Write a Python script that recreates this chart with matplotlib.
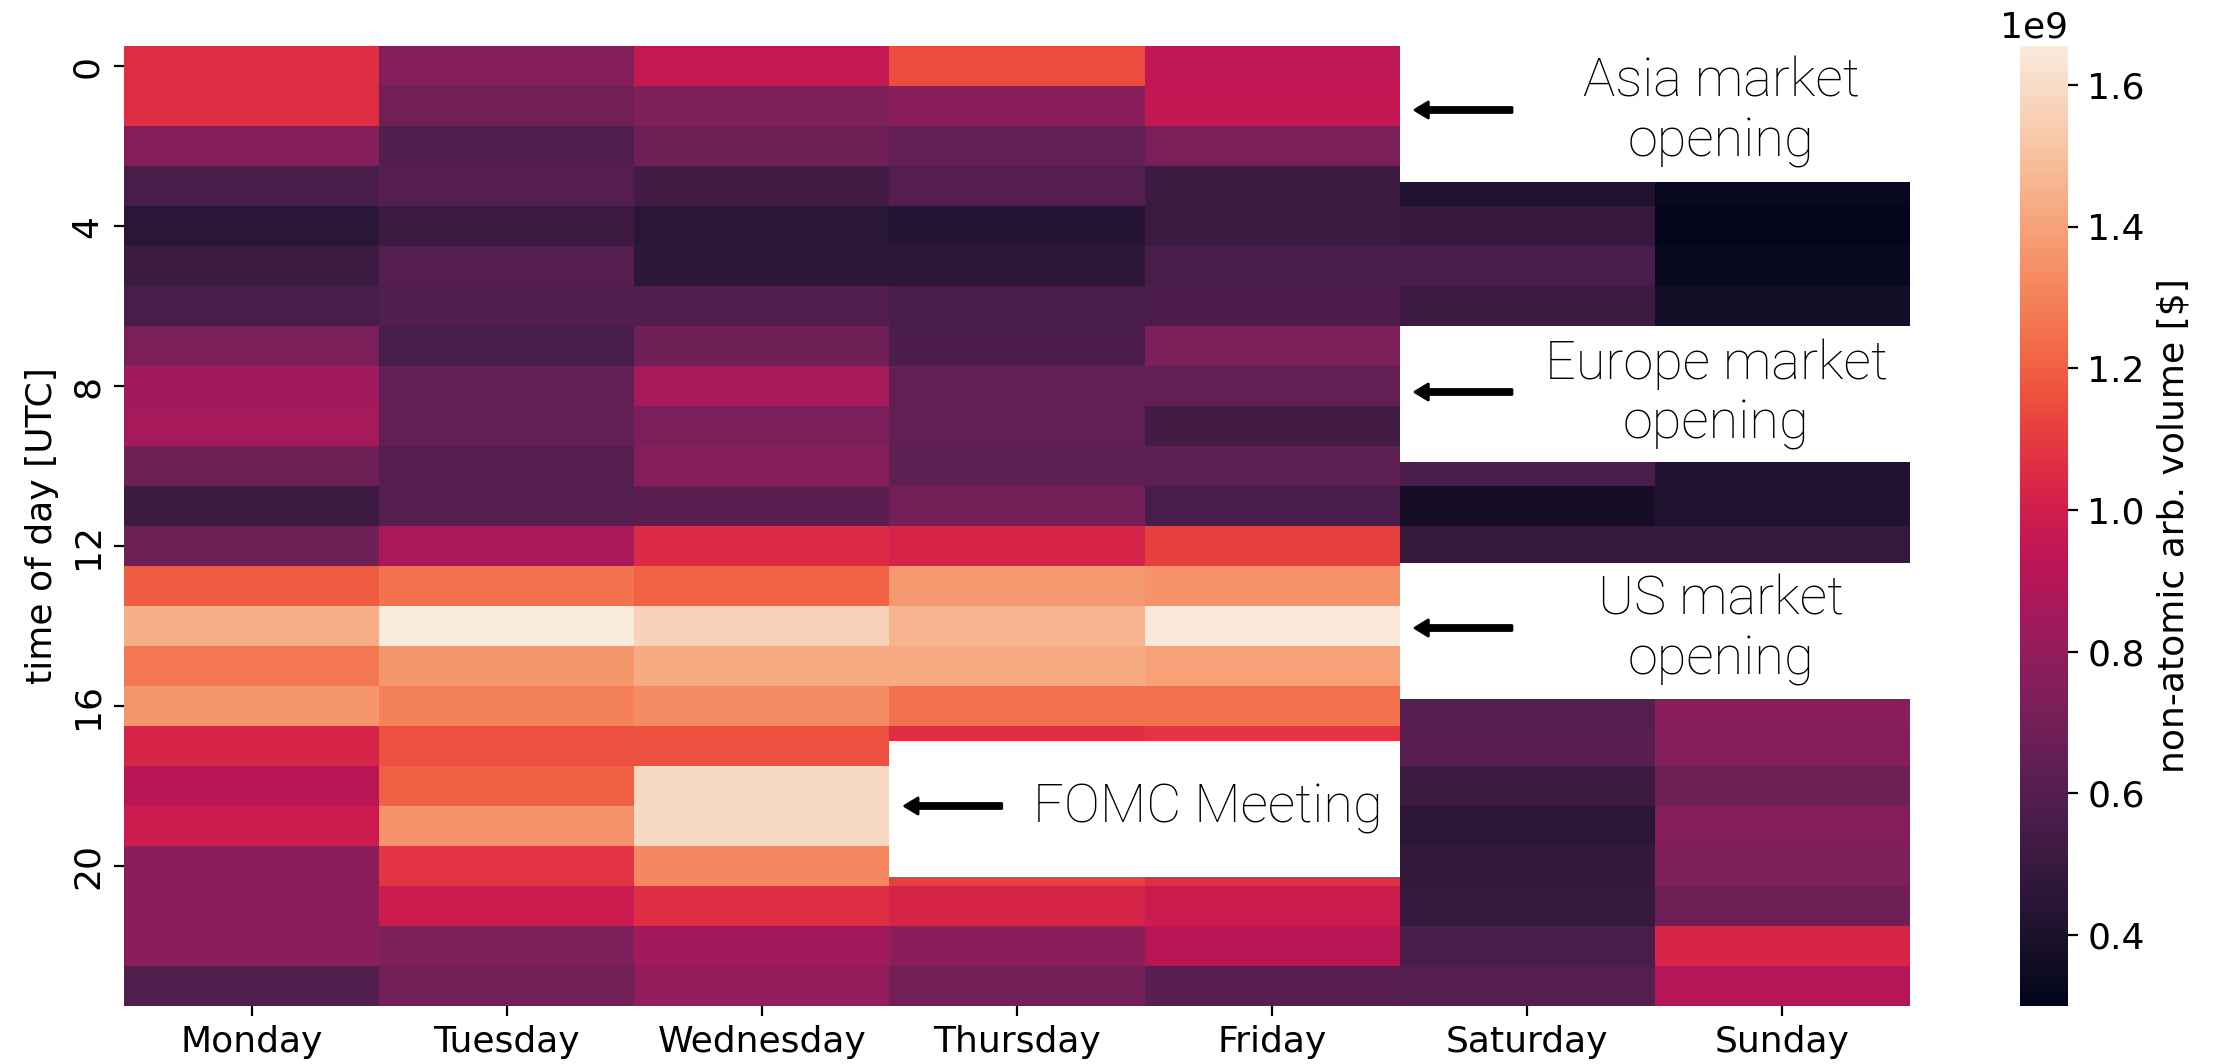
import numpy as np
import pandas as pd
import matplotlib
matplotlib.use("Agg")
import matplotlib.pyplot as plt
from matplotlib.patches import Rectangle
import seaborn as sns

nan = np.nan
days = ["Monday", "Tuesday", "Wednesday", "Thursday", "Friday", "Saturday", "Sunday"]
hours = list(range(24))

# values in units of 1e9 $ (NaN = hidden behind annotation boxes)
monday = [1.06, 1.06, 0.75, 0.56, 0.45, 0.52, 0.56, 0.72, 0.84, 0.86, 0.68, 0.52,
          0.68, 1.19, 1.44, 1.27, 1.36, 1.03, 0.92, 0.98, 0.77, 0.77, 0.77, 0.59]
tuesday = [0.75, 0.69, 0.59, 0.60, 0.52, 0.60, 0.59, 0.56, 0.64, 0.64, 0.60, 0.60,
           0.87, 1.25, 1.655, 1.36, 1.30, 1.16, 1.20, 1.35, 1.08, 0.98, 0.73, 0.69]
wednesday = [0.96, 0.73, 0.68, 0.54, 0.45, 0.46, 0.59, 0.68, 0.86, 0.72, 0.76, 0.62,
             1.05, 1.21, 1.57, 1.43, 1.33, 1.16, 1.59, 1.59, 1.32, 1.06, 0.84, 0.80]
thursday = [1.15, 0.77, 0.64, 0.60, 0.43, 0.46, 0.56, 0.57, 0.64, 0.64, 0.63, 0.70,
            1.02, 1.37, 1.46, 1.43, 1.25, 1.06, nan, nan, 1.11, 1.02, 0.77, 0.70]
friday = [0.94, 0.95, 0.72, 0.52, 0.52, 0.56, 0.57, 0.73, 0.64, 0.54, 0.63, 0.56,
          1.11, 1.35, 1.645, 1.40, 1.25, 1.08, nan, nan, 1.06, 0.98, 0.92, 0.61]
saturday = [nan, nan, nan, 0.42, 0.50, 0.56, 0.52, nan, nan, nan, 0.56, 0.375,
            0.49, nan, nan, nan, 0.60, 0.61, 0.52, 0.45, 0.48, 0.49, 0.56, 0.60]
sunday = [nan, nan, nan, 0.33, 0.30, 0.33, 0.37, nan, nan, nan, 0.42, 0.42,
          0.49, nan, nan, nan, 0.77, 0.76, 0.68, 0.75, 0.73, 0.68, 1.03, 0.90]

annotations = ["Asia market\nopening", "Europe market\nopening", "US market\nopening", "FOMC Meeting"]

df = pd.DataFrame({"Monday": monday, "Tuesday": tuesday, "Wednesday": wednesday,
                   "Thursday": thursday, "Friday": friday, "Saturday": saturday,
                   "Sunday": sunday}, index=hours) * 1e9

plt.rcParams["font.family"] = ["DejaVu Sans"]
plt.rcParams["font.size"] = 13

fig = plt.figure(figsize=(2213 / 200, 1064 / 200), dpi=200)
ax = fig.add_axes([124 / 2213, 58 / 1064, 1786 / 2213, 960 / 1064])
cax = fig.add_axes([2020 / 2213, 58 / 1064, 48 / 2213, 960 / 1064])

sns.heatmap(df, ax=ax, cbar_ax=cax, cmap="rocket", yticklabels=4,
            cbar_kws={"label": "non-atomic arb. volume [$]"})

ax.set_ylabel("time of day [UTC]", fontsize=13)
ax.set_xlabel("")
ax.tick_params(axis="both", labelsize=13)
for t in ax.get_yticklabels():
    t.set_rotation(90)
    t.set_va("center")
cax.tick_params(labelsize=13)
cax.yaxis.get_offset_text().set_fontsize(13)
cax.yaxis.label.set_size(13)

# white annotation boxes: (x, y_top, width)
boxes = [(5.0, 0.0, 2.0), (5.0, 7.0, 2.0), (5.0, 12.93, 2.0), (3.0, 17.38, 2.0)]
arrow_y = [1.6, 8.65, 14.55, 19.0]
text_x = [6.26, 6.24, 6.26, 4.25]
for (bx, by, bw), ay, tx, txt in zip(boxes, arrow_y, text_x, annotations):
    ax.add_patch(Rectangle((bx, by), bw, 3.4, facecolor="white", edgecolor="none",
                           zorder=3, clip_on=False))
    ax.annotate("", xy=(bx + 0.06, ay), xytext=(bx + 0.44, ay),
                arrowprops=dict(facecolor="black", edgecolor="black", width=1.8,
                                headwidth=5.8, headlength=4.8), zorder=4)
    ax.text(tx, ay + 0.05, txt, ha="center", va="center", fontsize=19.5,
            family=["Roboto", "DejaVu Sans"], fontweight="light", zorder=4,
            color="black", linespacing=1.2)

fig.savefig("out.png", dpi=200)
